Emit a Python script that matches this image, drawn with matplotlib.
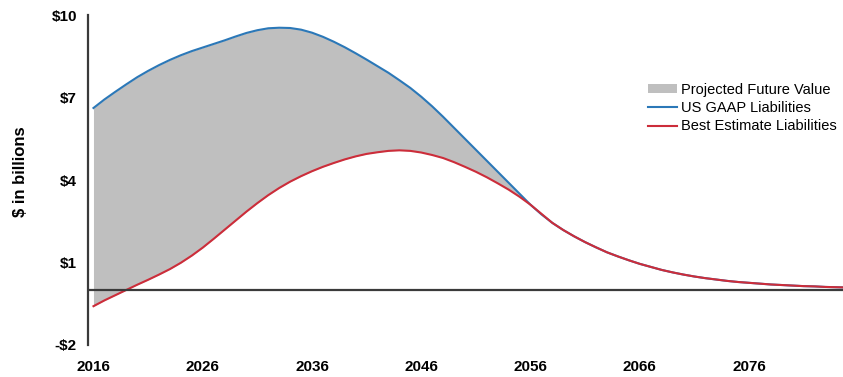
import matplotlib
matplotlib.use("Agg")
import matplotlib.pyplot as plt
import numpy as np

years = list(range(2016, 2086))

us_gaap = [6.62, 6.93, 7.21, 7.48, 7.74, 7.97, 8.18, 8.37, 8.54, 8.69,
           8.82, 8.95, 9.08, 9.22, 9.35, 9.45, 9.52, 9.54, 9.53, 9.47,
           9.36, 9.21, 9.03, 8.83, 8.61, 8.38, 8.14, 7.9, 7.63, 7.35,
           7.03, 6.68, 6.3, 5.9, 5.5, 5.1, 4.7, 4.3, 3.9, 3.5,
           3.1, 2.75, 2.44, 2.18, 1.95, 1.74, 1.55, 1.37, 1.22, 1.08,
           0.95, 0.84, 0.73, 0.64, 0.56, 0.49, 0.43, 0.38, 0.33, 0.29,
           0.26, 0.23, 0.2, 0.18, 0.16, 0.14, 0.13, 0.11, 0.1, 0.09]

best_est = [-0.59, -0.38, -0.19, 0.0, 0.19, 0.37, 0.56, 0.76, 0.99, 1.25,
            1.54, 1.86, 2.19, 2.52, 2.85, 3.16, 3.45, 3.71, 3.94, 4.14,
            4.32, 4.48, 4.62, 4.75, 4.86, 4.95, 5.01, 5.06, 5.08, 5.06,
            5.0, 4.91, 4.8, 4.65, 4.48, 4.3, 4.1, 3.88, 3.65, 3.39,
            3.1, 2.77, 2.44, 2.18, 1.95, 1.74, 1.55, 1.37, 1.22, 1.08,
            0.95, 0.84, 0.73, 0.64, 0.56, 0.49, 0.43, 0.38, 0.33, 0.29,
            0.26, 0.23, 0.2, 0.18, 0.16, 0.14, 0.13, 0.11, 0.1, 0.09]

xticks = [2016, 2026, 2036, 2046, 2056, 2066, 2076]
yticks = [-2, 1, 4, 7, 10]
ytick_labels = ["-$2", "$1", "$4", "$7", "$10"]

plt.rcParams['font.family'] = ['Liberation Sans', 'DejaVu Sans']

fig = plt.figure(figsize=(8.43, 3.77), dpi=100)
ax = fig.add_axes([0.1044, 0.085, 0.8956, 0.875])

x = np.array(years)
g = np.array(us_gaap)
b = np.array(best_est)

ax.fill_between(x, b, g, color='#bfbfbf', linewidth=0, label='Projected Future Value')
ax.plot(x, g, color='#2b78b8', lw=1.5, label='US GAAP Liabilities')
ax.plot(x, b, color='#cc2d3a', lw=1.5, label='Best Estimate Liabilities')
ax.axhline(0, color='#3a3a3a', lw=1.6, zorder=3)

ax.set_xlim(2015.5, 2084.6)
ax.set_ylim(-2, 10)
ax.set_xticks(xticks)
ax.set_xticklabels([str(t) for t in xticks], fontsize=11, fontweight='bold')
ax.set_yticks(yticks)
ax.set_yticklabels(ytick_labels, fontsize=11, fontweight='bold')
ax.tick_params(axis='both', length=0)
ax.tick_params(axis='y', pad=8)
ax.tick_params(axis='x', pad=11)

for s in ['top', 'right', 'bottom']:
    ax.spines[s].set_visible(False)
ax.spines['left'].set_color('#3a3a3a')
ax.spines['left'].set_linewidth(1.6)

fig.text(0.024, 0.545, "$ in billions", rotation=90, fontsize=12, fontweight='bold',
         ha='center', va='center')

leg = fig.legend(loc='upper left', bbox_to_anchor=(0.760, 0.80), frameon=False,
                 fontsize=10.5, handlelength=2.0, handletextpad=0.25,
                 labelspacing=0.3, borderpad=0, handleheight=0.5)

fig.savefig("out.png", dpi=100, facecolor='white')
